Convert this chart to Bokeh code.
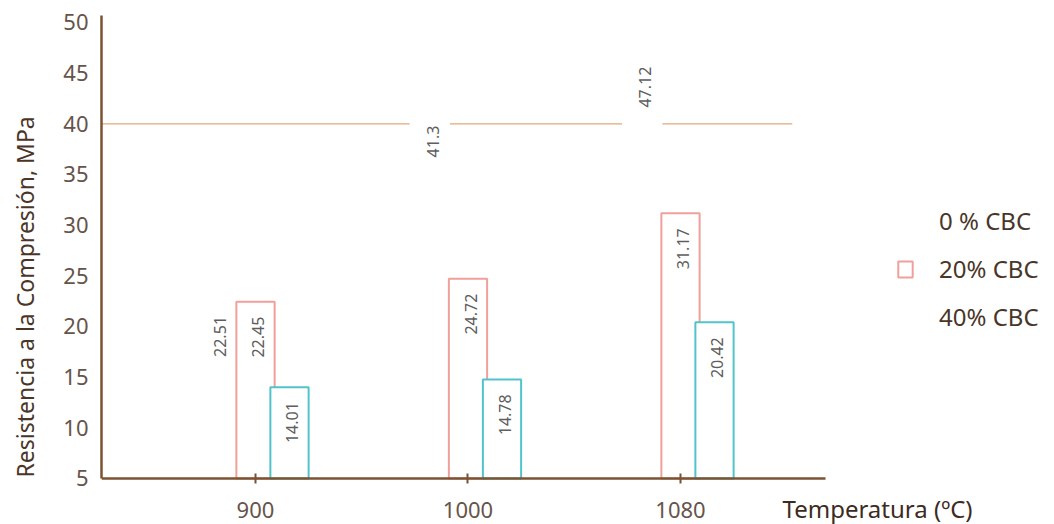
import math
from bokeh.plotting import figure
from bokeh.models import (ColumnDataSource, FixedTicker, Legend, LegendItem, Label)
from bokeh.core.properties import value
from bokeh.embed import file_html
from bokeh.resources import INLINE

# ---- data ----
temperatures = ["900", "1000", "1080"]
series_names = ["0 % CBC", "20% CBC", "40% CBC"]
cbc_0 = [22.51, 41.3, 47.12]
cbc_20 = [22.45, 24.72, 31.17]
cbc_40 = [14.01, 14.78, 20.42]
y_ticks = [5, 10, 15, 20, 25, 30, 35, 40, 45, 50]
reference_level = 40

FONT = "Noto Sans"
BROWN = "#7b5232"
TXT = "#4a3628"

W, H = 1046, 524
X0, X1 = -0.7247, 2.682      # visible extent of the x axis
PXU = 212.5                  # px per x unit
Y_BASE, Y_TOP = 5, 50.69
PYU = 10.133                 # px per y unit
left, top = 101, 15
frame_w = W - left
frame_h = H - top
x_range = (X0, X0 + frame_w / PXU)
y_range = (Y_BASE - (frame_h - (Y_TOP - Y_BASE) * PYU) / PYU, Y_TOP)

xs = list(range(len(temperatures)))
offsets = [-0.18, 0.0, 0.16]
bw = 0.18

p = figure(width=W, height=H, x_range=x_range, y_range=y_range,
           output_backend="svg", toolbar_location=None,
           min_border_left=left, min_border_right=0, min_border_top=top, min_border_bottom=0)
p.outline_line_color = None
p.xgrid.visible = False
p.ygrid.visible = False

# reference line at 40
p.segment(x0=[X0], x1=[2.526], y0=[reference_level], y1=[reference_level],
          line_color="#e0a877", line_width=1.3)

def src(vals, off):
    return ColumnDataSource(dict(x=[x + off for x in xs], top=vals,
                                 lab=[("%g" % v) for v in vals]))

s0, s20, s40 = src(cbc_0, offsets[0]), src(cbc_20, offsets[1]), src(cbc_40, offsets[2])

r0 = p.vbar(x="x", top="top", bottom=Y_BASE, width=bw, source=s0,
            fill_color="white", line_color="white", line_width=2)
r20 = p.vbar(x="x", top="top", bottom=Y_BASE, width=bw, source=s20,
             fill_color="white", line_color="#f0a09b", line_width=2)
r40 = p.vbar(x="x", top="top", bottom=Y_BASE, width=bw, source=s40,
             fill_color="white", line_color="#50c4ca", line_width=2)
r40_leg = p.vbar(x=[], top=[], width=bw, fill_color="white", line_color="white")

for s in (s0, s20, s40):
    p.text(x="x", y="top", text="lab", source=s, angle=math.pi / 2,
           text_align="right", text_baseline="middle", x_offset=3, y_offset=15,
           text_font=value(FONT), text_font_size="16px", text_color="#5e5e5e")

# axes
p.xaxis.ticker = FixedTicker(ticks=xs)
p.xaxis.major_label_overrides = {i: t for i, t in enumerate(temperatures)}
p.xaxis.fixed_location = Y_BASE
p.xaxis.bounds = (X0, X1)
p.yaxis.ticker = FixedTicker(ticks=y_ticks)
p.yaxis.bounds = (Y_BASE, Y_TOP)
for ax in (p.xaxis[0], p.yaxis[0]):
    ax.axis_line_color = BROWN
    ax.axis_line_width = 2.5
    ax.major_tick_line_color = BROWN
    ax.major_tick_line_width = 2
    ax.minor_tick_line_color = None
    ax.major_label_text_font = FONT
    ax.major_label_text_font_size = "22px"
    ax.major_label_text_color = "#66544a"
p.xaxis.major_tick_in = 5
p.xaxis.major_tick_out = 5
p.xaxis.major_label_standoff = 19
p.yaxis.major_tick_in = 0
p.yaxis.major_tick_out = 0
p.yaxis.major_label_standoff = 13
p.yaxis.axis_label = "Resistencia a la Compresión, MPa" + "\u00a0" * 9
p.yaxis.axis_label_text_font = FONT
p.yaxis.axis_label_text_font_size = "23px"
p.yaxis.axis_label_text_font_style = "normal"
p.yaxis.axis_label_text_color = TXT
p.yaxis.axis_label_standoff = 19

p.add_layout(Label(x=782 - left, y=H - 508, x_units="screen", y_units="screen",
                   text="Temperatura (ºC)", text_font=FONT, text_font_size="24px",
                   text_color="#3d2b1f", text_baseline="middle", text_align="left"))

legend = Legend(items=[LegendItem(label=series_names[0], renderers=[r0]),
                       LegendItem(label=series_names[1], renderers=[r20]),
                       LegendItem(label=series_names[2], renderers=[r40_leg])],
                location=(896 - left, H - 333))
legend.padding = 0
legend.margin = 0
legend.glyph_width = 18
legend.glyph_height = 20
legend.label_height = 20
legend.spacing = 15
legend.label_standoff = 25
legend.label_text_font = FONT
legend.label_text_font_size = "24px"
legend.label_text_color = TXT
legend.border_line_color = None
legend.background_fill_alpha = 0
p.add_layout(legend)

open("out.html", "w").write(file_html(p, INLINE))
